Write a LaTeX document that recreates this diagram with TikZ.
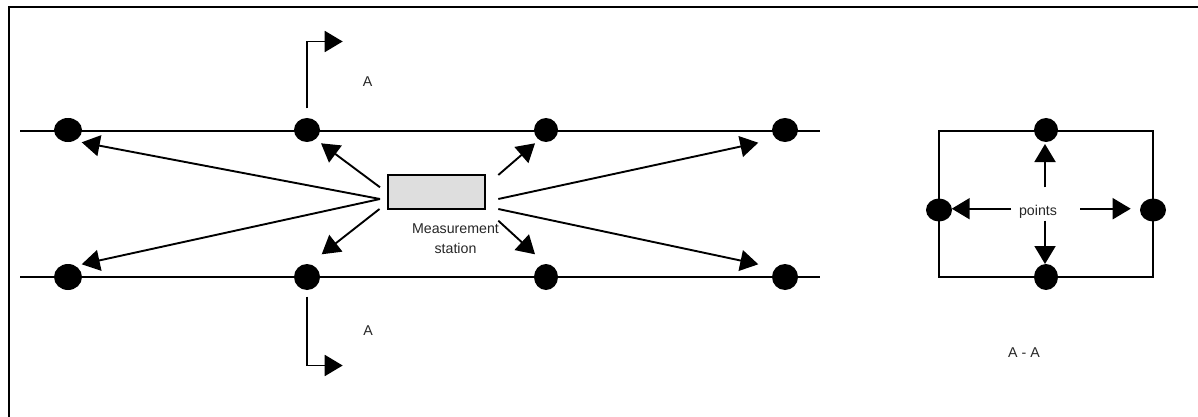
\documentclass[tikz,border=0pt]{standalone}
\usepackage{fontspec}
\setmainfont{Liberation Sans}
\usetikzlibrary{arrows.meta,shapes.geometric}
\tikzset{
  x=1pt,y=-1pt,
  dotnode/.style={ellipse,fill=black,draw=none,minimum width=26pt,minimum height=24pt,inner sep=0pt},
  ln/.style={line width=1.9pt,black},
  arr/.style={ln,-{Triangle[length=18pt,width=21pt]}},
  lbl/.style={font=\fontsize{14.2pt}{20pt}\selectfont,text=black!85,inner sep=0pt,align=center},
}
\begin{document}
\begin{tikzpicture}
\useasboundingbox (0,0) rectangle (1198,417);
\coordinate (fTL) at (9,6.7); \coordinate (fTR) at (1198,6.7);
\coordinate (fBL) at (9,417);
\draw[ln] (fBL) -- (fTL) -- (fTR);
% rails
\coordinate (r1a) at (20,130.7); \coordinate (r1b) at (819.5,130.7);
\coordinate (r2a) at (20,276.7); \coordinate (r2b) at (819.5,276.7);
\draw[ln] (r1a) -- (r1b);
\draw[ln] (r2a) -- (r2b);
% section box
\coordinate (sTL) at (938.7,131); \coordinate (sTR) at (1152.7,131);
\coordinate (sBR) at (1152.7,276.7); \coordinate (sBL) at (938.7,276.7);
\draw[ln] (sTL) -- (sTR) -- (sBR) -- (sBL) -- cycle;
% dots
\node[dotnode,minimum width=28pt] (a1) at (68,130) {};
\node[dotnode] (a2) at (307,130) {};
\node[dotnode,minimum width=24pt] (a3) at (546,130) {};
\node[dotnode] (a4) at (785,130) {};
\node[dotnode,minimum width=28pt,minimum height=26pt] (b1) at (68,277) {};
\node[dotnode,minimum height=26pt] (b2) at (307,277) {};
\node[dotnode,minimum width=24pt,minimum height=26pt] (b3) at (546,277) {};
\node[dotnode,minimum height=26pt] (b4) at (785,277) {};
\node[dotnode,minimum width=24pt] (st) at (1046,130) {};
\node[dotnode,minimum height=23pt] (sl) at (939,210) {};
\node[dotnode,minimum height=23pt] (sr) at (1153,210) {};
\node[dotnode,minimum width=24pt,minimum height=26pt] (sb) at (1046,277) {};
% station
\node[draw=black,line width=1.9pt,fill=black!13,minimum width=96.7pt,minimum height=34pt,inner sep=0pt] (ms) at (436.7,192) {};
\node[lbl] (mslabel) at (455.5,238.5) {Measurement\\station};
% section arrows A
\coordinate (u0) at (306.7,108.5); \coordinate (u1) at (306.7,41.5); \coordinate (u2) at (342.7,41.5);
\coordinate (d0) at (306.7,296.7); \coordinate (d1) at (306.7,365.5); \coordinate (d2) at (342.7,365.5);
\draw[arr] (u0) -- (u1) -- (u2);
\draw[arr] (d0) -- (d1) -- (d2);
\node[lbl,anchor=base] (A1) at (367.7,87) {A};
\node[lbl,anchor=base] (A2) at (368,335) {A};
% radial arrows
\coordinate (c1) at (380,199); \coordinate (c2) at (380,187.3);
\coordinate (c4) at (379.5,209);
\coordinate (e1) at (498.3,199); \coordinate (e2) at (498.3,175);
\coordinate (e3) at (498.3,209); \coordinate (e4) at (498.3,220.7);
\coordinate (t1) at (81.7,142.3); \coordinate (t2) at (321,143.3);
\coordinate (t3) at (535,143.3); \coordinate (t4) at (758.3,142.7);
\coordinate (t5) at (81.7,264.3); \coordinate (t6) at (321.7,254.3);
\coordinate (t7) at (535,254.3); \coordinate (t8) at (758.3,264.3);
\draw[arr] (c1) -- (t1);
\draw[arr] (c2) -- (t2);
\draw[arr] (e2) -- (t3);
\draw[arr] (e1) -- (t4);
\draw[arr] (c1) -- (t5);
\draw[arr] (c4) -- (t6);
\draw[arr] (e4) -- (t7);
\draw[arr] (e3) -- (t8);
% points
\node[lbl,anchor=base] (pts) at (1038,215) {points};
\coordinate (pu) at (1045,187.3); \coordinate (pd) at (1045,220.7);
\coordinate (pl) at (1011,208.7); \coordinate (pr) at (1080,208.7);
\coordinate (put) at (1045,144); \coordinate (pdt) at (1045,264);
\coordinate (plt) at (951.7,208.7); \coordinate (prt) at (1130.7,208.7);
\draw[arr] (pu) -- (put);
\draw[arr] (pd) -- (pdt);
\draw[arr] (pl) -- (plt);
\draw[arr] (pr) -- (prt);
\node[lbl,anchor=base] (AA) at (1024,357) {A - A};
\end{tikzpicture}
\end{document}
